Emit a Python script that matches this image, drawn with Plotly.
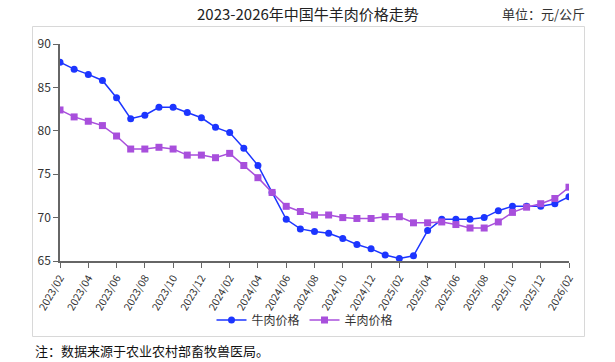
import plotly.graph_objects as go

months = []
for y in (2023, 2024, 2025, 2026):
    for m in range(1, 13):
        if (y == 2023 and m < 2) or (y == 2026 and m > 2):
            continue
        months.append(f"{y}/{m:02d}")

beef = [87.9, 87.1, 86.5, 85.8, 83.8, 81.4, 81.8, 82.7, 82.7, 82.1, 81.5, 80.4, 79.8,
        78.0, 76.0, 72.9, 69.8, 68.7, 68.4, 68.2, 67.6, 66.9, 66.4, 65.7, 65.3,
        65.6, 68.5, 69.8, 69.8, 69.8, 70.0, 70.8, 71.3, 71.3, 71.3, 71.6, 72.4]
mutton = [82.4, 81.6, 81.1, 80.6, 79.4, 77.9, 77.9, 78.1, 77.9, 77.2, 77.2, 76.9, 77.4,
          76.0, 74.6, 72.9, 71.3, 70.7, 70.3, 70.3, 70.0, 69.9, 69.9, 70.1, 70.1,
          69.4, 69.4, 69.5, 69.2, 68.8, 68.8, 69.5, 70.6, 71.2, 71.6, 72.2, 73.5]
tick_labels = months[::2]
y_ticks = [65, 70, 75, 80, 85, 90]

FONT = "Noto Sans CJK SC"
BLUE = "#1c35ff"
PURPLE = "#a84fdc"

PL, PR, PT, PB = 60, 569, 44, 261
W = PR - PL
H = PB - PT

fig = go.Figure()
fig.add_trace(go.Scatter(x=months, y=beef, name="牛肉价格", mode="lines+markers",
                         line=dict(color=BLUE, width=1.5),
                         marker=dict(symbol="circle", size=7, color=BLUE)))
fig.add_trace(go.Scatter(x=months, y=mutton, name="羊肉价格", mode="lines+markers",
                         line=dict(color=PURPLE, width=1.5),
                         marker=dict(symbol="square", size=7, color=PURPLE)))

fig.update_layout(
    width=615, height=362,
    margin=dict(l=PL, r=615 - PR, t=PT, b=362 - PB, autoexpand=False),
    paper_bgcolor="white", plot_bgcolor="white",
    font=dict(family=FONT, size=11, color="#333"),
    showlegend=True,
    legend=dict(orientation="h", x=(305 - PL) / W, xanchor="center",
                y=-(320 - PB) / H, yanchor="middle", bgcolor="rgba(0,0,0,0)",
                font=dict(size=12, color="#333"), itemwidth=30),
    shapes=[dict(type="rect", xref="paper", yref="paper",
                 x0=(32.5 - PL) / W, x1=(584.5 - PL) / W,
                 y0=-(336.5 - PB) / H, y1=1 + (PT - 26.5) / H,
                 line=dict(color="#d8d8d8", width=1), fillcolor="rgba(0,0,0,0)",
                 layer="above")],
    annotations=[
        dict(text="2023-2026年中国牛羊肉价格走势", xref="paper", yref="paper",
             x=(308 - PL) / W, y=1 + (PT - 14) / H, xanchor="center", yanchor="middle",
             showarrow=False, font=dict(size=15, color="#222")),
        dict(text="单位：元/公斤", xref="paper", yref="paper",
             x=(587 - PL) / W, y=1 + (PT - 14) / H, xanchor="right", yanchor="middle",
             showarrow=False, font=dict(size=13, color="#333")),
        dict(text="注：数据来源于农业农村部畜牧兽医局。", xref="paper", yref="paper",
             x=(33 - PL) / W, y=-(350 - PB) / H, xanchor="left", yanchor="middle",
             showarrow=False, font=dict(size=13, color="#111")),
    ],
)
fig.update_xaxes(type="category", range=[0, len(months) - 1], automargin=False,
                 tickmode="array", tickvals=tick_labels, ticktext=tick_labels,
                 tickangle=-60, ticks="outside", ticklen=5, tickcolor="#666",
                 showline=True, linecolor="#666", linewidth=1.5, showgrid=False,
                 tickfont=dict(size=10.5, color="#333"))
fig.update_yaxes(range=[65, 90], tickvals=y_ticks, ticks="outside", ticklen=5,
                 automargin=False,
                 tickcolor="#666", showline=True, linecolor="#666", linewidth=1.5,
                 showgrid=False, zeroline=False, tickfont=dict(size=12, color="#333"))

fig.write_html("out.html", config={"displayModeBar": False},
               post_script="document.body.style.margin='0px';document.body.style.overflow='hidden';")
